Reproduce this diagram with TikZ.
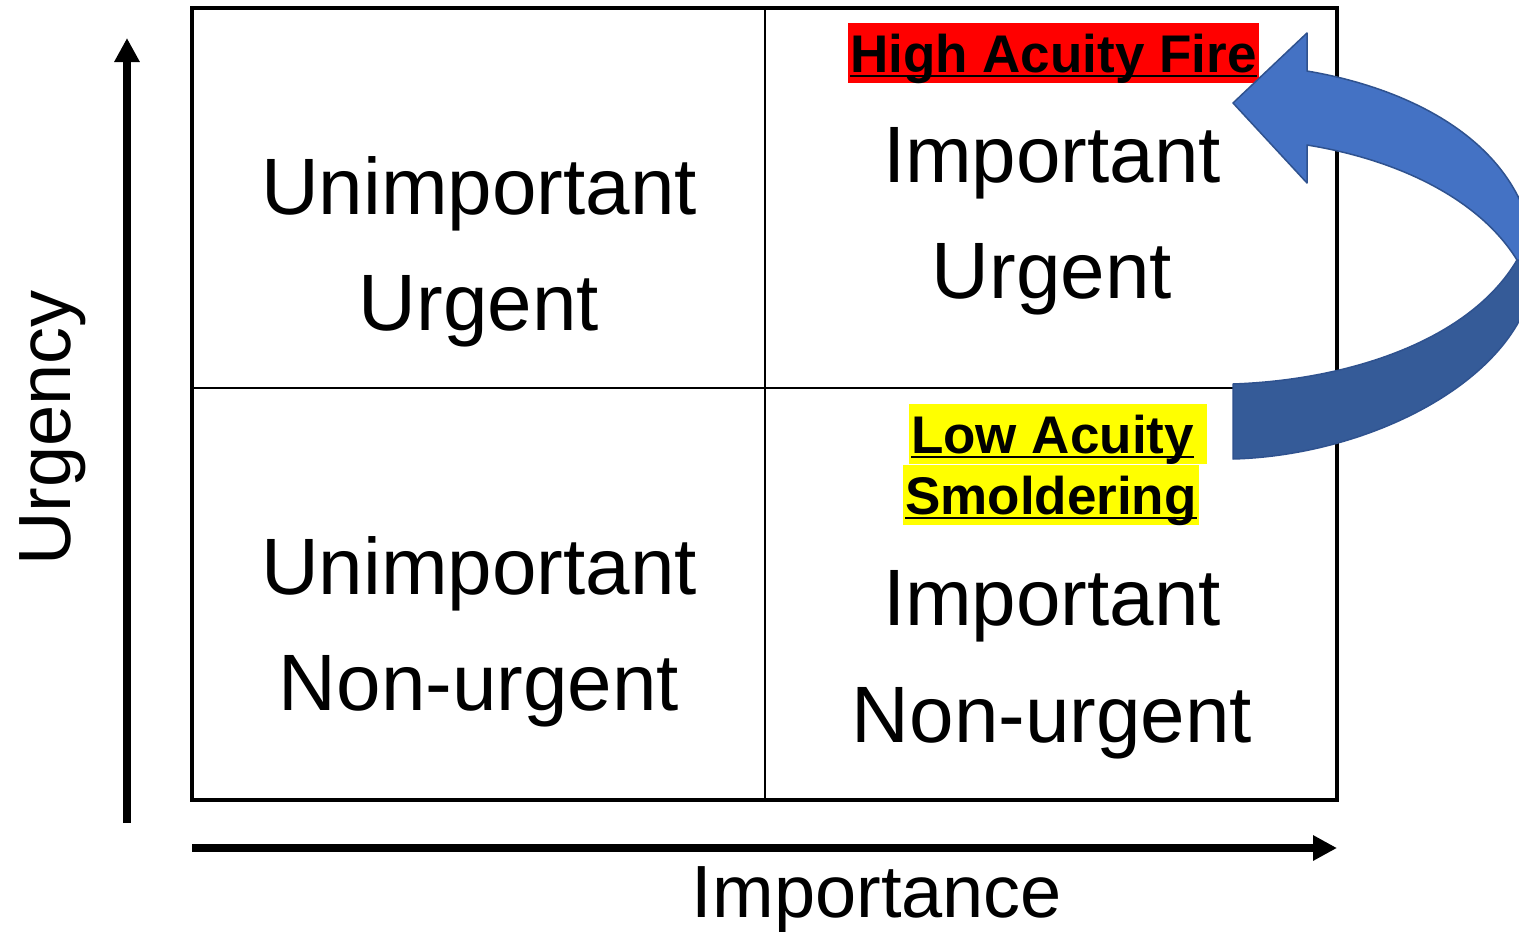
\documentclass[tikz,border=0pt]{standalone}
\usepackage{fontspec}
\setmainfont{Liberation Sans}
\usetikzlibrary{arrows.meta}
\definecolor{arrowlight}{HTML}{4472C4}
\definecolor{arrowdark}{HTML}{355B98}
\definecolor{arrowedge}{HTML}{2F528F}
\definecolor{hlred}{HTML}{FF0000}
\definecolor{hlyellow}{HTML}{FFFF00}
\newsavebox{\myulbox}
\newcommand{\myul}[1]{\sbox{\myulbox}{#1}\rlap{\rule[-5pt]{\wd\myulbox}{2.5pt}}\usebox{\myulbox}}
\begin{document}
\begin{tikzpicture}[x=1pt,y=-1pt,
  celltext/.style={font=\fontsize{80}{96}\selectfont, anchor=base, inner sep=0pt},
  axislabel/.style={font=\fontsize{74}{89}\selectfont, anchor=base, inner sep=0pt},
  tag/.style={font=\bfseries\fontsize{53}{64}\selectfont, anchor=base west, inner xsep=2pt, inner ysep=0pt, text height=49pt, text depth=11pt},
  axisarrow/.style={line width=7.5pt, -{Triangle[length=24pt,width=24pt]}},
  frame/.style={line width=4.5pt},
  divider/.style={line width=2.5pt},
  bentarrow/.style={draw=arrowedge, line width=1.5pt, line join=round}]
\useasboundingbox (0,0) rectangle (1519,932);
% grid
\draw[frame] (192,8) rectangle (1337,800);
\draw[divider] (765,8) -- (765,800);
\draw[divider] (192,388) -- (1337,388);
% cell texts
\node[celltext] (tl1) at (479,214) {Unimportant};
\node[celltext] (tl2) at (479,330) {Urgent};
\node[celltext] (tr1) at (1052,182) {Important};
\node[celltext] (tr2) at (1052,298) {Urgent};
\node[celltext] (bl1) at (479,594) {Unimportant};
\node[celltext] (bl2) at (479,710) {Non-urgent};
\node[celltext] (br1) at (1052,625) {Important};
\node[celltext] (br2) at (1052,742) {Non-urgent};
% highlighted tags
\node[tag, fill=hlred] (fire) at (848,72) {\myul{High Acuity Fire}};
\node[tag, fill=hlyellow] (low) at (909,453) {\myul{Low Acuity}\rule{11pt}{0pt}};
\node[tag, fill=hlyellow] (smol) at (903,514) {\myul{Smoldering}};
% axes
\coordinate (ybot) at (127,823);
\coordinate (ytop) at (127,38);
\draw[axisarrow] (ybot) -- (ytop);
\coordinate (xl) at (192,848);
\coordinate (xr) at (1337,848);
\draw[axisarrow] (xl) -- (xr);
\node[axislabel, rotate=90] (urg) at (70,428) {Urgency};
\node[axislabel] (imp) at (877,917) {Importance};
% curved arrow
\begin{scope}
\clip (0,0) rectangle (1519,932);
\filldraw[bentarrow, fill=arrowdark]
  (1517,260) .. controls (1470,340) and (1350,380) .. (1233,384)
  -- (1233,459)
  .. controls (1380,455) and (1535,370) .. (1535,262)
  -- cycle;
\filldraw[bentarrow, fill=arrowlight]
  (1233,103) -- (1307,33) -- (1307,71)
  .. controls (1420,90) and (1530,150) .. (1535,262)
  -- (1517,260)
  .. controls (1480,200) and (1400,160) .. (1307,145)
  -- (1307,183) -- cycle;
\end{scope}
\end{tikzpicture}
\end{document}
